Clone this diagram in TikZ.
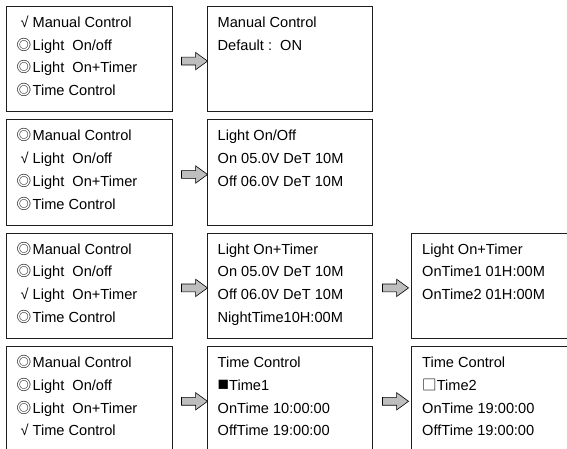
\documentclass[tikz,border=0pt]{standalone}
\usepackage{fontspec}
\setmainfont{Liberation Sans}
\newfontfamily\cjk{Noto Sans CJK SC}
\usepackage{tikz}
\usetikzlibrary{calc,shapes.arrows}
\definecolor{PanelLine}{RGB}{30,30,30}
\definecolor{ArrowGray}{RGB}{190,190,190}

\newcommand{\chk}{\makebox[16pt][c]{√}}
\newcommand{\ring}{\makebox[16pt][l]{\cjk ◎}}
\newcommand{\pick}[2]{\ifnum#1=#2\relax\chk\else\ring\fi}
\newcommand{\fullsq}{{\fontsize{19}{17}\selectfont■}}
\newcommand{\emptysq}{{\cjk □}}
\newcommand{\lcdtext}[4]{%
  \foreach \txt [count=\k] in {#4}
    \node[lcdline] (#1-\k) at ({#2+10.5},{#3+21.3+(\k-1)*22.8}) {\txt};
}

\begin{document}
\begin{tikzpicture}[x=1pt,y=-1pt,
  lcd/.style={draw=PanelLine,line width=0.7pt,minimum height=105.5pt,inner sep=0pt,anchor=north west},
  lcdline/.style={anchor=base west,inner sep=0pt,font=\fontsize{14.6}{17}\selectfont},
  fwd/.style={single arrow,draw=black,line width=0.6pt,fill=ArrowGray,inner sep=0pt,inner ysep=3.6pt,
    single arrow head extend=4.8pt,single arrow tip angle=72,minimum height=26pt}]
  \useasboundingbox (0,0) rectangle (567,449);

  % menu screens, one tick per row
  \foreach \r in {1,...,4}{
    \node[lcd,minimum width=166pt] (m\r) at (6,{6+(\r-1)*113.4}) {};
    \lcdtext{mt\r}{6}{6+(\r-1)*113.4}{\pick{\r}{1}Manual Control,\pick{\r}{2}Light\ \ On/off,\pick{\r}{3}Light\ \ On+Timer,\pick{\r}{4}Time Control}
  }

  % detail screens
  \foreach \r in {1,...,4}
    \node[lcd,minimum width=165pt] (d\r) at (207,{6+(\r-1)*113.4}) {};
  \lcdtext{dt1}{207}{6}{Manual Control,Default :\ \ ON}
  \lcdtext{dt2}{207}{119.4}{Light On/Off,On 05.0V DeT 10M,Off 06.0V DeT 10M}
  \lcdtext{dt3}{207}{232.8}{Light On+Timer,On 05.0V DeT 10M,Off 06.0V DeT 10M,NightTime10H:00M}
  \lcdtext{dt4}{207}{346.2}{Time Control,\fullsq Time1,OnTime 10:00:00,OffTime 19:00:00}

  % second level screens
  \foreach \r in {3,4}
    \node[lcd,minimum width=165pt] (s\r) at (411,{6+(\r-1)*113.4}) {};
  \lcdtext{st3}{411.5}{232.8}{Light On+Timer,OnTime1 01H:00M,OnTime2 01H:00M}
  \lcdtext{st4}{411.5}{346.2}{Time Control,\emptysq Time2,OnTime 19:00:00,OffTime 19:00:00}

  % arrows
  \foreach \r in {1,...,4}
    \node[fwd] (a\r) at ($(m\r.east)!0.5!(d\r.west)+(2,2)$) {};
  \foreach \r in {3,4}
    \node[fwd] (b\r) at ($(d\r.east)!0.5!(s\r.west)+(1,2)$) {};
\end{tikzpicture}
\end{document}
